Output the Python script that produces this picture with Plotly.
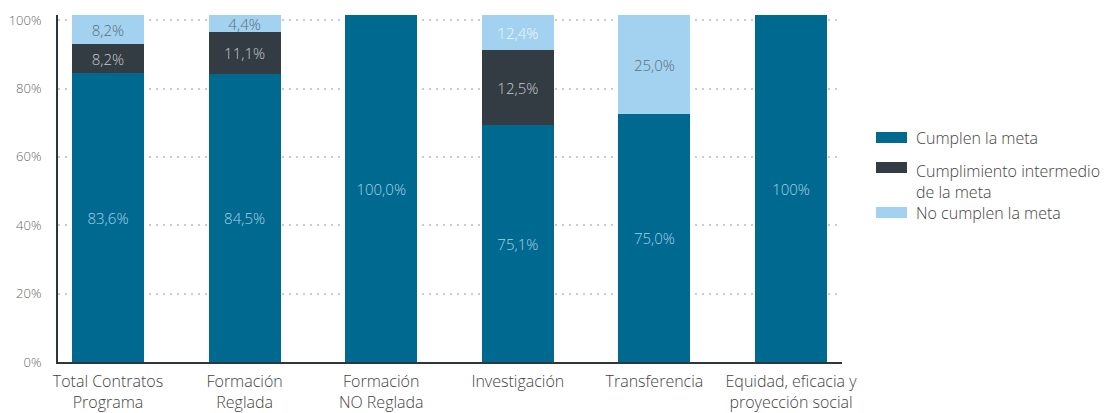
import plotly.graph_objects as go

# ---------------- data ----------------
categories = ["Total Contratos<br>Programa", "Formación<br>Reglada", "Formación<br>NO Reglada",
              "Investigación", "Transferencia", "Equidad, eficacia y<br>proyección social"]
series_names = ["Cumplen la meta", "Cumplimiento intermedio<br>de la meta", "No cumplen la meta"]

# segment heights as drawn in the picture (%)
cumplen = [84.5, 84.2, 101.5, 69.3, 72.5, 101.5]
intermedio = [8.5, 12.3, None, 21.9, None, None]
no_cumplen = [8.5, 5.0, None, 10.2, 28.9, None]

# printed labels
lab_cumplen = ["83,6%", "84,5%", "100,0%", "75,1%", "75,0%", "100%"]
lab_intermedio = ["8,2%", "11,1%", "", "12,5%", "", ""]
lab_no = ["8,2%", "4,4%", "", "12,4%", "25,0%", ""]

y_ticks = [0, 20, 40, 60, 80, 100]
y_tick_text = ["0%", "20%", "40%", "60%", "80%", "100%"]

# ---------------- style ----------------
FONT = "Open Sans"
C_BLUE = "#00698f"
C_DARK = "#333c43"
C_LIGHT = "#a2d2f0"
TXT = "#555555"

W, H = 1112, 413
ML, MR, MT, MB = 58, 270, 15, 51
PW, PH = W - ML - MR, H - MT - MB

fig = go.Figure()
bar_w = 0.527
common = dict(width=bar_w, textposition="inside", insidetextanchor="middle",
              textangle=0, constraintext="none", showlegend=False, hoverinfo="skip")

fig.add_trace(go.Bar(x=categories, y=cumplen, name=series_names[0], marker_color=C_BLUE,
                     marker_line_width=0, text=lab_cumplen,
                     textfont=dict(family=FONT, size=15, color="#a6d0e8", weight=300), **common))
fig.add_trace(go.Bar(x=categories, y=intermedio, name=series_names[1], marker_color=C_DARK,
                     marker_line_width=0, text=lab_intermedio,
                     textfont=dict(family=FONT, size=15, color="#c3c9ce", weight=300), **common))
no_colors = ["#5f6e79", "#5f6e79", "#5f6e79", "#eef7fc", "#5f6e79", "#5f6e79"]
fig.add_trace(go.Bar(x=categories, y=no_cumplen, name=series_names[2], marker_color=C_LIGHT,
                     marker_line_width=0, text=lab_no,
                     textfont=dict(family=FONT, size=15, color=no_colors, weight=300), **common))

# custom legend
def px_x(p):
    return (p - ML) / PW

def px_y(p):
    return (H - MB - p) / PH

legend_items = [(C_BLUE, 132, 143, 138, series_names[0]),
                (C_DARK, 162, 173, 178, series_names[1]),
                (C_LIGHT, 207, 218, 213, series_names[2])]
shapes = []
annotations = []
for col, y0, y1, yt, name in legend_items:
    shapes.append(dict(type="rect", xref="paper", yref="paper",
                       x0=px_x(876), x1=px_x(907), y0=px_y(y1), y1=px_y(y0),
                       fillcolor=col, line_width=0))
    if "<br>" in name:
        annotations.append(dict(xref="paper", yref="paper", x=px_x(914), y=px_y(158),
                                xanchor="left", yanchor="top", text=name, showarrow=False,
                                align="left",
                                font=dict(family=FONT, size=16, color="#444444", weight=300)))
    else:
        annotations.append(dict(xref="paper", yref="paper", x=px_x(914), y=px_y(yt),
                                xanchor="left", yanchor="middle", text=name, showarrow=False,
                                align="left",
                                font=dict(family=FONT, size=16, color="#444444", weight=300)))

fig.update_layout(
    width=W, height=H,
    margin=dict(l=ML, r=MR, t=MT, b=MB, autoexpand=False),
    barmode="stack",
    plot_bgcolor="white", paper_bgcolor="white",
    shapes=shapes, annotations=annotations,
    showlegend=False,
    font=dict(family=FONT, color=TXT),
)
fig.update_xaxes(range=[-0.366, 5.373], showline=True, linecolor="#2f363b", linewidth=2,
                 showgrid=False, ticks="", automargin=False, ticklabelstandoff=4,
                 tickfont=dict(family=FONT, size=16, color="#444444", weight=300),
                 fixedrange=True)
fig.update_yaxes(range=[0, 101.5], tickvals=y_ticks, ticktext=y_tick_text,
                 showline=True, linecolor="#2f363b", linewidth=2, automargin=False,
                 showgrid=True, gridcolor="#cccccc", gridwidth=2, griddash="2px,5px",
                 zeroline=False, ticks="outside", ticklen=6, tickcolor="rgba(0,0,0,0)",
                 ticklabelstandoff=6,
                 tickfont=dict(family=FONT, size=13, color="#666666", weight=300), fixedrange=True)

fig.write_html("out.html", config={"displayModeBar": False, "staticPlot": True},
               post_script="document.body.style.margin='0';document.body.style.padding='0';")
